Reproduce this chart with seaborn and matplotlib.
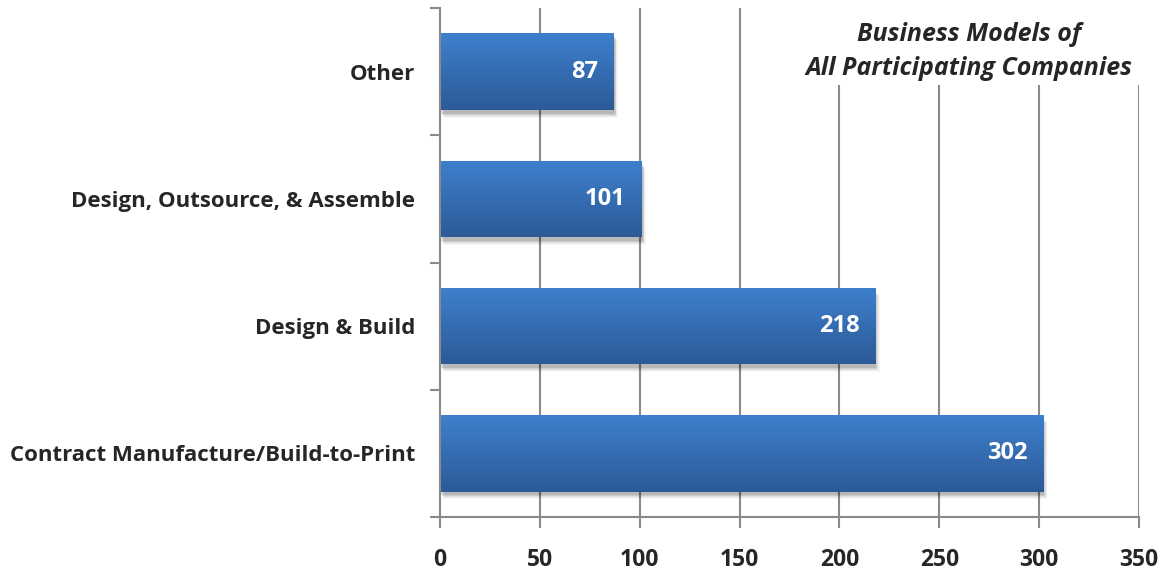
import numpy as np
import pandas as pd
import matplotlib
matplotlib.use("Agg")
import matplotlib.pyplot as plt
from matplotlib.colors import LinearSegmentedColormap
from matplotlib.patches import Rectangle
import seaborn as sns

# Business model categories (top to bottom) and company counts
categories = ["Other", "Design, Outsource, & Assemble", "Design & Build",
              "Contract Manufacture/Build-to-Print"]
counts = [87, 101, 218, 302]
x_ticks = [0, 50, 100, 150, 200, 250, 300, 350]
title_lines = ["Business Models of", "All Participating Companies"]

df = pd.DataFrame({"model": categories, "companies": counts})

sns.set_theme(style="white")
plt.rcParams["font.family"] = ["Open Sans", "DejaVu Sans"]
plt.rcParams["font.weight"] = "bold"

GRID = "#8a8a8a"
TOP_BLUE = "#3e80cd"
BOTTOM_BLUE = "#2c5a97"

fig = plt.figure(figsize=(11.64, 5.71), dpi=100)
ax = fig.add_axes([440 / 1164, 1 - 517 / 571, (1139 - 440) / 1164, (517 - 8) / 571])

sns.barplot(data=df, y="model", x="companies", order=categories, orient="h",
            color=TOP_BLUE, width=0.6, ax=ax, zorder=3, linewidth=0)

ax.set_xlim(0, 350)
ax.set_ylim(3.5, -0.5)

# vertical gridlines
for xv in x_ticks[1:]:
    ax.axvline(xv, color=GRID, lw=1.5, zorder=1)

# gradient fill and soft drop shadow for each bar
cmap = LinearSegmentedColormap.from_list("barblue", [TOP_BLUE, BOTTOM_BLUE])
grad = np.linspace(0, 1, 256).reshape(-1, 1)
for patch, val in zip(ax.patches, counts):
    x0, y0 = patch.get_x(), patch.get_y()
    w, h = patch.get_width(), patch.get_height()
    for i, a in enumerate([0.10, 0.08, 0.06, 0.04, 0.03]):
        ax.add_patch(Rectangle((x0 + 0.5 + i * 0.4, y0 + 0.03 + i * 0.008), w,
                               h, facecolor="black", alpha=a, lw=0, zorder=2))
    im = ax.imshow(grad, cmap=cmap, aspect="auto", extent=(x0, x0 + w, y0 + h, y0),
                   zorder=4, interpolation="bicubic")
    im.set_clip_path(patch)
    ax.text(x0 + w - 8, y0 + h / 2, f"{val}", color="white", fontsize=17,
            fontweight="bold", ha="right", va="center", zorder=5)

ax.set_xlim(0, 350)
ax.set_ylim(3.5, -0.5)

# axes styling
for side in ["top", "right"]:
    ax.spines[side].set_visible(False)
for side in ["left", "bottom"]:
    ax.spines[side].set_color(GRID)
    ax.spines[side].set_linewidth(1.5)
    ax.spines[side].set_zorder(6)

ax.set_xticks(x_ticks)
ax.set_xticklabels([str(v) for v in x_ticks], fontsize=16.5, fontweight="bold")
ax.tick_params(axis="x", direction="out", length=8, width=1.5, color=GRID,
               pad=14, bottom=True)

ax.set_yticks(range(len(categories)))
ax.set_yticklabels(categories, fontsize=16, fontweight="bold")
ax.set_yticks([-0.5, 0.5, 1.5, 2.5, 3.5], minor=True)
ax.tick_params(axis="y", which="major", length=0, pad=18)
ax.tick_params(axis="y", which="minor", direction="out", length=7, width=1.5,
               color=GRID, left=True)
ax.set_xlabel("")
ax.set_ylabel("")

# title block: white panel hides the gridlines behind the text
ax.add_patch(Rectangle((0.51, 0.848), 0.52, 0.16, transform=ax.transAxes,
                       facecolor="white", edgecolor="none", zorder=1.5,
                       clip_on=False))
ax.text(0.757, 0.973, "\n".join(title_lines), transform=ax.transAxes,
        ha="center", va="top", fontsize=18, fontweight="bold", style="italic",
        linespacing=1.47, zorder=7)

fig.savefig("out.png", dpi=100, facecolor="white")
